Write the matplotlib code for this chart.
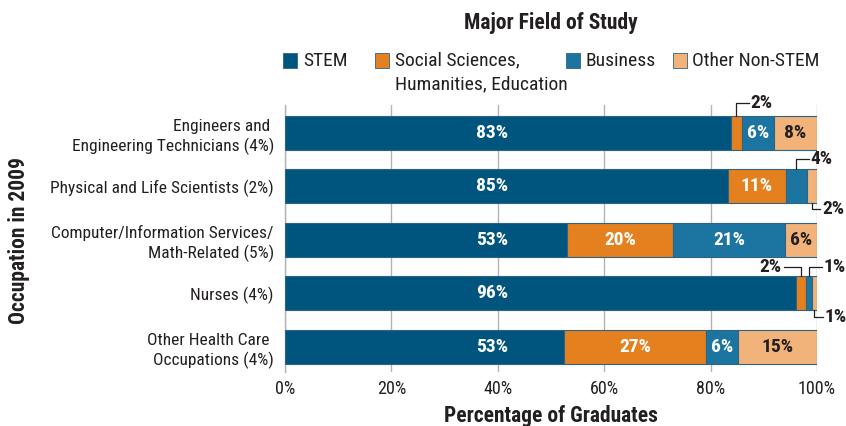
import matplotlib
matplotlib.use("Agg")
import matplotlib.pyplot as plt
from matplotlib.patches import Rectangle
import numpy as np

plt.rcParams['font.family'] = ['Roboto Condensed', 'Liberation Sans Narrow', 'Roboto', 'DejaVu Sans']

occupations = [
    "Engineers and \nEngineering Technicians (4%)",
    "Physical and Life Scientists (2%)",
    "Computer/Information Services/\nMath-Related (5%)",
    "Nurses (4%)",
    "Other Health Care \nOccupations (4%)",
]
fields = ["STEM", "Social Sciences,\nHumanities, Education", "Business", "Other Non-STEM"]
stem = [83, 85, 53, 96, 53]
social = [2, 11, 20, 2, 27]
business = [6, 4, 21, 1, 6]
other = [8, 2, 6, 1, 15]
colors = ["#00557f", "#e5801f", "#1c75a0", "#f2b37b"]
label_colors = ["white", "white", "white", "#231f20"]
xticks = [0, 20, 40, 60, 80, 100]
xtick_labels = ["0%", "20%", "40%", "60%", "80%", "100%"]

# (row, field, above?, leftward?) for segments too narrow for an inside label
callouts = [(0, 1, True, False), (1, 2, True, False), (1, 3, False, False),
            (3, 1, True, True), (3, 2, True, False), (3, 3, False, False)]

INK = "#231f20"
W, H = 846, 426
fig = plt.figure(figsize=(W / 100, H / 100), dpi=100)
ax = fig.add_axes([285 / W, 1 - 372 / H, 532 / W, 267 / H])

values = np.array([stem, social, business, other], dtype=float)
shares = values / values.sum(axis=0) * 100  # each row scaled to 100%
y = np.arange(len(occupations))
bar_h = 0.64
left = np.zeros(len(occupations))
for k in range(len(fields)):
    ax.barh(y, shares[k], left=left, height=bar_h, color=colors[k],
            edgecolor="#2f6383", linewidth=0.8, zorder=3)
    left += shares[k]

lefts = np.vstack([np.zeros(len(occupations)), np.cumsum(shares, axis=0)[:-1]])
callout_set = {(r, f) for r, f, _, _ in callouts}
for r in range(len(occupations)):
    for f in range(len(fields)):
        if (r, f) in callout_set:
            continue
        xc = 39 if f == 0 else lefts[f, r] + shares[f, r] / 2
        ax.text(xc, r, f"{int(values[f, r])}%", ha="center", va="center",
                color=label_colors[f], fontsize=14, fontweight="bold", zorder=5)

for r, f, above, leftward in callouts:
    xc = lefts[f, r] + shares[f, r] / 2
    edge = r - bar_h / 2 if above else r + bar_h / 2
    if r == 0:
        off = 0.24
    elif r == 1:
        off = 0.2 if above else 0.1
    else:
        off = 0.17 if above else 0.13
    yl = edge - off if above else edge + off
    dx = -3.2 if leftward else (2.4 if above else 1.6)
    ax.plot([xc, xc, xc + dx], [edge, yl, yl], color=INK, lw=0.9,
            clip_on=False, zorder=4)
    ax.text(xc + dx + (-0.4 if leftward else 0.3), yl, f"{int(values[f, r])}%",
            ha="right" if leftward else "left", va="center", color=INK,
            fontsize=14, fontweight="bold", clip_on=False)

ax.set_xlim(0, 100)
ax.set_ylim(len(occupations) - 1 + 0.47, -0.52)
ax.set_xticks(xticks)
ax.set_xticklabels(xtick_labels)
ax.set_yticks(y)
ax.set_yticklabels(occupations, ha="right", multialignment="right", linespacing=1.3)
ax.tick_params(axis="both", length=0, labelsize=12.5, colors=INK)
ax.tick_params(axis="x", pad=6, labelsize=13)
ax.tick_params(axis="y", pad=8)
ax.xaxis.grid(True, color="#b3b3b3", linewidth=1, zorder=0)
ax.set_axisbelow(True)
for s in ["top", "right", "bottom"]:
    ax.spines[s].set_visible(False)
ax.spines["left"].set_color("#b3b3b3")
ax.spines["left"].set_linewidth(1)

ax.set_xlabel("Percentage of Graduates", fontsize=15.5, fontweight="bold",
              color=INK, labelpad=5)
fig.text(18.5 / W, 1 - 240 / H, "Occupation in 2009", rotation=90, ha="center",
         va="center", fontsize=15.5, fontweight="bold", color=INK)
fig.text(551 / W, 1 - 23 / H, "Major Field of Study", ha="center", va="center",
         fontsize=15.5, fontweight="bold", color=INK)

# legend
leg_box = [283, 375, 566, 673]
leg_txt = [303, 395, 585, 692]
for k, name in enumerate(fields):
    fig.patches.append(Rectangle((leg_box[k] / W, 1 - 67.5 / H), 14 / W, 14 / H,
                                 transform=fig.transFigure, facecolor=colors[k],
                                 edgecolor="#2f6383", linewidth=0.6))
    if "\n" in name:
        fig.text(leg_txt[k] / W, 1 - 51 / H, name, ha="left", va="top",
                 fontsize=14, color=INK, linespacing=1.45)
    else:
        fig.text(leg_txt[k] / W, 1 - 61 / H, name, ha="left", va="center",
                 fontsize=14, color=INK)

fig.savefig("out.png", dpi=100)
